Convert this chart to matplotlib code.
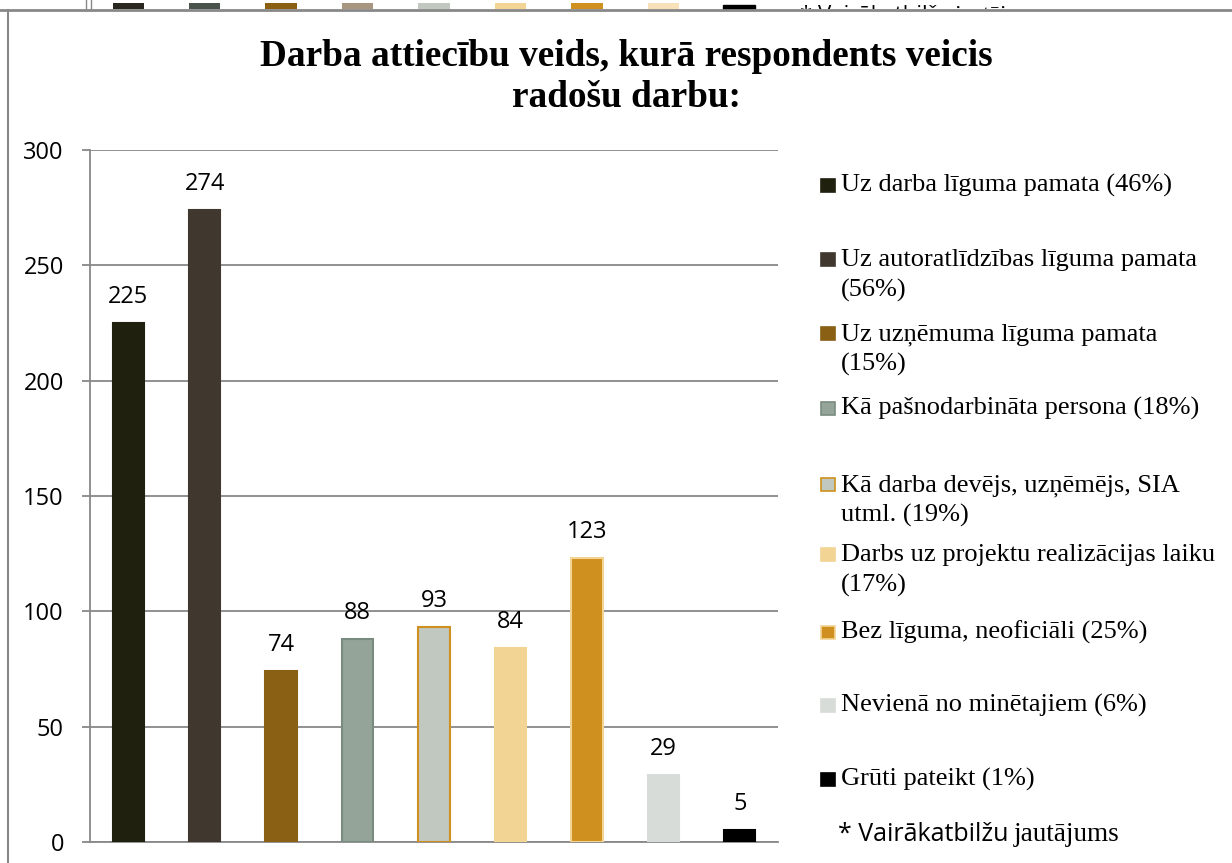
import matplotlib.pyplot as plt
from matplotlib.patches import Rectangle

# data
categories = [
    "Uz darba līguma pamata (46%)",
    "Uz autoratlīdzības līguma pamata\n(56%)",
    "Uz uzņēmuma līguma pamata\n(15%)",
    "Kā pašnodarbināta persona (18%)",
    "Kā darba devējs, uzņēmējs, SIA\nutml. (19%)",
    "Darbs uz projektu realizācijas laiku\n(17%)",
    "Bez līguma, neoficiāli (25%)",
    "Nevienā no minētajiem (6%)",
    "Grūti pateikt (1%)",
]
values = [225, 274, 74, 88, 93, 84, 123, 29, 5]
bar_colors = ["#20200f", "#40382e", "#8a6014", "#94a498", "#c0c8c0",
              "#f2d494", "#d09020", "#d8dcd8", "#000000"]
edge_colors = ["#20200f", "#40382e", "#8a6014", "#7a8c80", "#d09020",
               "#f2d494", "#f2d494", "#d8dcd8", "#000000"]
yticks = [0, 50, 100, 150, 200, 250, 300]

# cropped strip of the previous chart at the top
prev_colors = ["#2a2620", "#4a524c", "#8a5f12", "#a89680", "#c0c8c0",
               "#f2d494", "#d09020", "#f8e0b8"]

W, H = 1232, 863
fig = plt.figure(figsize=(W / 100, H / 100), dpi=100)


def fx(x):
    return x / W


def fy(y):
    return 1 - y / H


grid_c = "#888888"
serif = "Liberation Serif"
sans = "Open Sans"

# top strip (bottom of another chart)
top = fig.add_axes([fx(90), fy(9), fx(778) - fx(90), fy(0) - fy(9)])
top.bar(range(len(prev_colors)), [1] * len(prev_colors), width=0.41,
        color=prev_colors)
top.set_xlim(-0.5, 8.5)
top.set_ylim(0, 1.5)
top.axis("off")
fig.add_artist(Rectangle((fx(723), fy(9)), fx(32), fy(5) - fy(9),
                         transform=fig.transFigure, color="black"))
clip = top.bbox.expanded(10, 1)
for txt, xx, fam, fs in [("* Vairākatbilžu", 800, sans, 16),
                         ("jautājums", 955, serif, 17)]:
    t = fig.text(fx(xx), fy(21), txt, ha="left", va="baseline",
                 fontsize=fs, family=fam)
    t.set_clip_box(clip)
    t.set_clip_on(True)
fig.add_artist(plt.Line2D([fx(86), fx(86)], [fy(0), fy(10)],
                          transform=fig.transFigure, color=grid_c, lw=1))
fig.add_artist(plt.Line2D([fx(91), fx(91)], [fy(0), fy(10)],
                          transform=fig.transFigure, color=grid_c, lw=1))

# chart frame
fig.add_artist(plt.Line2D([0, 1], [fy(10), fy(10)],
                          transform=fig.transFigure, color=grid_c, lw=2))
fig.add_artist(plt.Line2D([fx(8), fx(8)], [fy(10), 0],
                          transform=fig.transFigure, color=grid_c, lw=1.5))

# main axes
ax = fig.add_axes([fx(90), fy(842), fx(778) - fx(90), fy(150) - fy(842)])
x = range(len(values))
bars = ax.bar(x, values, width=0.41, color=bar_colors,
              edgecolor=edge_colors, linewidth=1.5, zorder=3)
ax.set_xlim(-0.5, 8.5)
ax.set_ylim(0, 300)
ax.set_yticks(yticks)
ax.set_xticks([])
ax.yaxis.grid(True, color=grid_c, lw=1.3)
ax.set_axisbelow(True)
for s in ["top", "right"]:
    ax.spines[s].set_visible(False)
for s in ["left", "bottom"]:
    ax.spines[s].set_color(grid_c)
    ax.spines[s].set_linewidth(1.3)
ax.tick_params(axis="y", length=5.8, width=1.3, color=grid_c, pad=13,
               labelsize=17)
for t in ax.get_yticklabels():
    t.set_family(sans)

for i, v in enumerate(values):
    ax.annotate(str(v), (i, v), xytext=(0, 26), textcoords="offset pixels",
                ha="center", va="center", fontsize=17, family=sans)

# title
fig.text(fx(626), fy(66), "Darba attiecību veids, kurā respondents veicis",
         ha="center", va="baseline", fontsize=26.8, fontweight="bold",
         family=serif)
fig.text(fx(626), fy(107), "radošu darbu:", ha="center", va="baseline",
         fontsize=26.8, fontweight="bold", family=serif)

# legend
leg_y = [192, 266, 340, 415, 491, 561, 639, 712, 786]
for lab, c, ec, y in zip(categories, bar_colors, edge_colors, leg_y):
    fig.add_artist(Rectangle((fx(821), fy(y)), fx(14), fy(y - 13) - fy(y),
                             transform=fig.transFigure, facecolor=c,
                             edgecolor=ec, lw=1.2))
    for k, line in enumerate(lab.split("\n")):
        fig.text(fx(841), fy(y + 31 * k), line, ha="left", va="baseline",
                 fontsize=19, family=serif)

fig.text(fx(838), fy(841), "* Vairākatbilžu", ha="left", va="baseline",
         fontsize=18, family=sans)
fig.text(fx(1014), fy(841), "jautājums", ha="left", va="baseline",
         fontsize=19.5, family=serif)

fig.savefig("out.png", dpi=100)
